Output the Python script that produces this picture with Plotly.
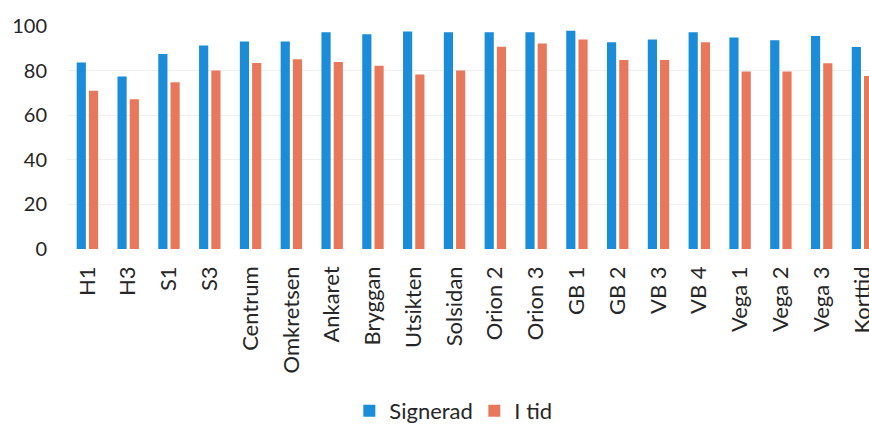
import plotly.graph_objects as go

# Andel signerade och i tid per enhet (%)
categories = ["H1", "H3", "S1", "S3", "Centrum", "Omkretsen", "Ankaret", "Bryggan",
              "Utsikten", "Solsidan", "Orion 2", "Orion 3", "GB 1", "GB 2", "VB 3",
              "VB 4", "Vega 1", "Vega 2", "Vega 3", "Korttid"]
signerad = [83.6, 77.3, 87.5, 91.2, 93.0, 93.0, 97.2, 96.3, 97.5, 97.2,
            97.2, 97.2, 97.9, 92.7, 93.9, 97.2, 94.8, 93.6, 95.5, 90.6]
i_tid = [71.0, 67.2, 74.8, 80.0, 83.4, 85.1, 83.9, 82.2, 78.2, 80.0,
         90.7, 92.2, 94.0, 84.8, 84.8, 92.7, 79.6, 79.6, 83.3, 77.6]
y_ticks = [0, 20, 40, 60, 80, 100]

BLUE = "#1a8cd8"
ORANGE = "#e8785c"
TEXT = "#262626"
FONT = "Lato, 'Open Sans', sans-serif"

x_idx = list(range(len(categories)))

fig = go.Figure()
fig.add_trace(go.Bar(x=x_idx, y=signerad, name="Signerad", marker_color=BLUE,
                     marker_line_width=0))
fig.add_trace(go.Bar(x=x_idx, y=i_tid, name="I tid", marker_color=ORANGE,
                     marker_line_width=0))

fig.update_layout(
    width=869, height=424,
    margin=dict(l=67, r=0, t=26, b=174.5, autoexpand=False),
    paper_bgcolor="white", plot_bgcolor="white",
    barmode="group", bargap=0.40, bargroupgap=0.25,
    font=dict(family=FONT, color=TEXT, size=20),
    showlegend=True,
    legend=dict(orientation="h", xref="container", yref="container",
                x=0.402, y=0.031, xanchor="left", yanchor="middle",
                font=dict(size=22, color=TEXT), itemsizing="constant",
                entrywidth=80, entrywidthmode="pixels",
                bgcolor="rgba(0,0,0,0)"),
)

fig.update_xaxes(
    range=[-0.5, 19.16], tickmode="array", tickvals=x_idx, ticktext=categories,
    tickangle=-90, tickfont=dict(size=22, color=TEXT), showgrid=False,
    zeroline=False, showline=False, ticks="", ticklabelstandoff=12,
    ticklabeloverflow="allow", automargin=False, fixedrange=True,
)
fig.update_yaxes(
    range=[0, 100], tickmode="array", tickvals=y_ticks,
    tickfont=dict(size=20, color=TEXT), showgrid=True, gridcolor="#efefef",
    gridwidth=1, zeroline=False, showline=False, ticks="",
    ticklabelstandoff=19, automargin=False, fixedrange=True,
)

fig.write_html("out.html")
